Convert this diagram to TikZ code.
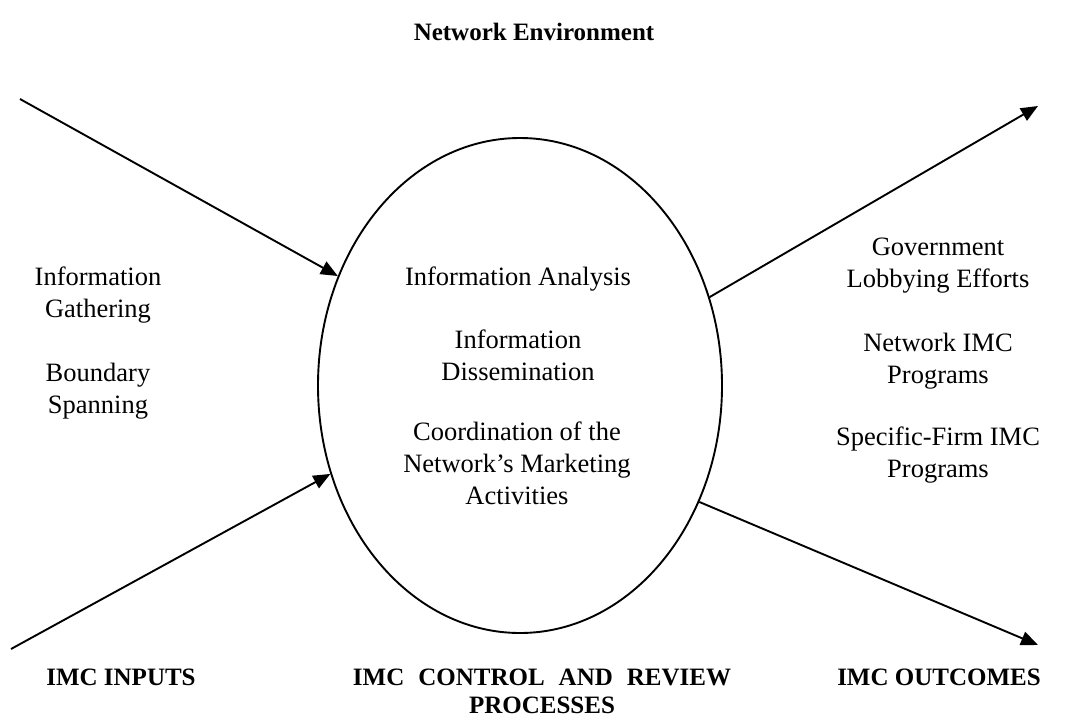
\documentclass[tikz,border=0pt]{standalone}
\usepackage{fontspec}
\setmainfont{Liberation Serif}
\usetikzlibrary{shapes.geometric,arrows.meta}
\begin{document}
\begin{tikzpicture}[x=1pt,y=-1pt,
  body/.style={font=\fontsize{26.5}{31.7}\selectfont, align=center, inner sep=0pt, anchor=north},
  head/.style={font=\fontsize{25}{27.5}\selectfont\bfseries, align=center, inner sep=0pt},
  flow/.style={line width=1.9pt, -{Triangle[length=17pt,width=14pt]}}]
\useasboundingbox (0,0) rectangle (1067,720);
\node[draw, line width=1.9pt, ellipse, minimum width=404pt, minimum height=495pt, inner sep=0pt] (ell) at (520,385.5) {};
% title
\node[head, anchor=base] (title) at (534,40) {Network Environment};
% left texts
\node[body] (gather) at (98,267) {Information\\Gathering};
\node[body] (span) at (98,363) {Boundary\\Spanning};
% middle texts
\node[body] (analysis) at (518,267) {Information Analysis};
\node[body] (dissem) at (518,330) {Information\\Dissemination};
\node[body] (coord) at (517,422) {Coordination of the\\Network’s Marketing\\Activities};
% right texts
\node[body] (lobby) at (938,238) {Government\\Lobbying Efforts};
\node[body] (netimc) at (938,333) {Network IMC\\Programs};
\node[body] (firmimc) at (938,427) {Specific-Firm IMC\\Programs};
% bottom labels
\node[head, anchor=base] (inputs) at (121,685) {IMC INPUTS};
\node[head, anchor=north] (control) at (542,669) {IMC\hspace{14pt}CONTROL\hspace{14pt}AND\hspace{14pt}REVIEW\\PROCESSES};
\node[head, anchor=base] (outcomes) at (939,685) {IMC OUTCOMES};
% arrow ends
\coordinate (in1) at (20,99);
\coordinate (in2) at (11,649);
\coordinate (out1) at (1038,106);
\coordinate (out2) at (1038,645);
\draw[flow] (in1) -- (ell.149.9);
\draw[flow] (in2) -- (ell.205.6);
\draw[flow] (ell.25.4) -- (out1);
\draw[flow] (ell.-33.3) -- (out2);
\end{tikzpicture}
\end{document}
